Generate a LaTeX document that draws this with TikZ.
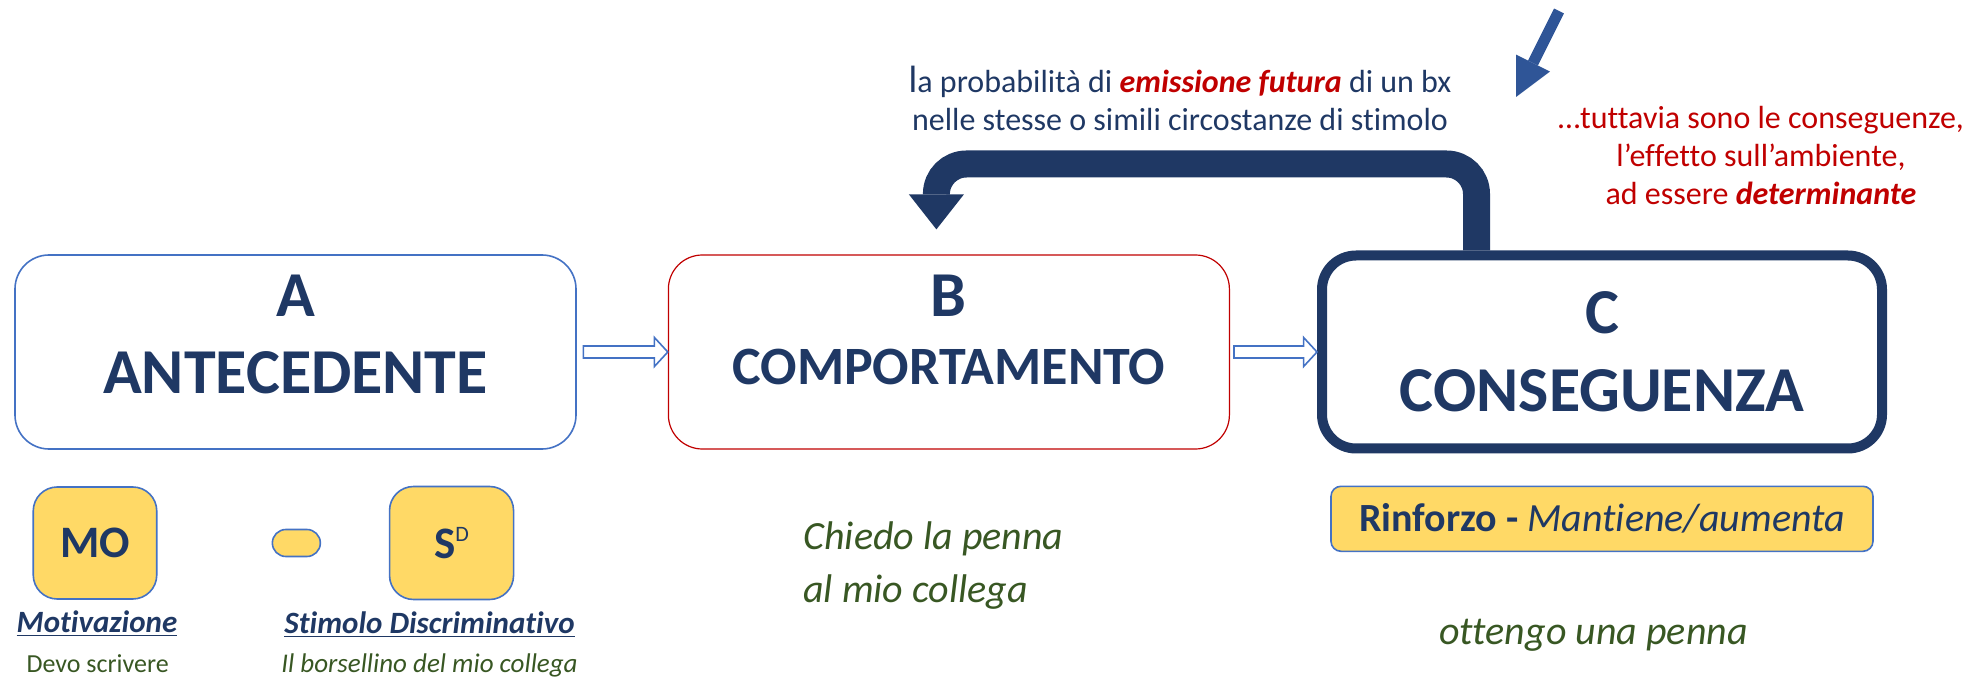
\documentclass[tikz,border=0pt]{standalone}
\usepackage{fontspec}
\setmainfont{Carlito}[Ligatures=CommonOff]
\usetikzlibrary{positioning}
\usetikzlibrary{calc}
\usetikzlibrary{arrows.meta}

\definecolor{abcnavy}{HTML}{1F3864}
\definecolor{abcblue}{HTML}{4472C4}
\definecolor{abcred}{HTML}{C00000}
\definecolor{abcyellow}{HTML}{FFD966}
\definecolor{abcgreen}{HTML}{385723}
\definecolor{abcarrow}{HTML}{2F5597}

\tikzset{
  mainbox/.style={rectangle, rounded corners=17pt, minimum width=280.5pt, minimum height=97pt,
    align=center, text=abcnavy, font=\bfseries\fontsize{32}{38.5}\selectfont},
  antbox/.style={mainbox, draw=abcblue, line width=0.8pt},
  behbox/.style={mainbox, draw=abcred, line width=0.6pt},
  conbox/.style={mainbox, draw=abcnavy, line width=5pt, minimum width=280pt, minimum height=96.5pt,
    font=\bfseries\fontsize{32}{39}\selectfont},
  tag/.style={rectangle, draw=abcblue, fill=abcyellow, line width=0.8pt, rounded corners=12pt,
    text=abcnavy, font=\bfseries\fontsize{22.5}{27}\selectfont, minimum width=61.75pt, minimum height=56pt},
  hollow/.style={draw=abcblue, fill=white, line width=0.8pt, line join=miter},
  feedback/.style={draw=abcnavy, line width=13.5pt, rounded corners=15pt,
    -{Triangle[width=27.5pt, length=17.5pt, line width=0pt]}},
  pointer/.style={draw=abcarrow, line width=5.5pt, -{Triangle[width=19pt, length=19pt, line width=0pt]}},
  lbl/.style={anchor=base, inner sep=0pt, text=abcnavy, font=\bfseries\itshape\fontsize{15.5}{18}\selectfont},
  note/.style={anchor=base, inner sep=0pt, text=abcgreen, font=\fontsize{13}{16}\selectfont},
  example/.style={inner sep=0pt, text=abcgreen, font=\itshape\fontsize{20}{26.5}\selectfont},
}

\begin{document}
\begin{tikzpicture}[x=0.5pt, y=-0.5pt]
    \useasboundingbox (0,0) rectangle (1986,678);

    % A - B - C
    \node[antbox] (A) at (295.5,352) {A\\ANTECEDENTE\rule[-18pt]{0pt}{0pt}};
    \node[behbox, right=45.5pt of A] (B) {B\\[-4.5pt]{\fontsize{27}{27}\selectfont COMPORTAMENTO}\rule[-22.5pt]{0pt}{0pt}};
    \node[conbox, right=43.5pt of B] (C) {C\\CONSEGUENZA};

    % antecedent parts
    \node[tag] (MO) at (95,543) {MO};
    \node[tag, right=57pt of MO, minimum width=24pt, minimum height=13.5pt, rounded corners=6.75pt] (pill) {};
    \node[tag, right=33.8pt of pill, minimum width=62pt, minimum height=56.5pt] (SD) {S\raisebox{8.5pt}{\mdseries\fontsize{11}{11}\selectfont D}};
    \node[lbl] (motiv) at (97,632) {\underline{Motivazione}};
    \node[note] (devo) at (97.7,672) {Devo scrivere};
    \node[lbl] (stimolo) at (429.5,633) {\underline{Stimolo Discriminativo}};
    \node[note, font=\itshape\fontsize{13.5}{16}\selectfont] (borsellino) at (429.5,672) {Il borsellino del mio collega};

    % examples
    \node[example, anchor=base west, align=left] (chiedo) at (803,602) {Chiedo la penna\\al mio collega};
    \node[tag, below=16pt of C, minimum width=271pt, minimum height=32.5pt, rounded corners=5pt,
      font=\fontsize{20}{24}\selectfont] (rinforzo) {\textbf{Rinforzo -} \textit{Mantiene/aumenta}};
    \node[example, anchor=base] (ottengo) at (1593.5,644) {ottengo una penna};

    % comments on top
    \node[anchor=base, align=center, inner sep=0pt, text=abcnavy, font=\fontsize{16}{19}\selectfont] (prob) at (1180,130.7)
      {{\fontsize{19}{19}\selectfont l}a probabilità di \textcolor{abcred}{\bfseries\itshape emissione futura} di un bx\\nelle stesse o simili circostanze di stimolo};
    \node[anchor=base, align=center, inner sep=0pt, text=abcred, font=\fontsize{16}{19}\selectfont] (tuttavia) at (1761,205)
      {…tuttavia sono le conseguenze,\\l’effetto sull’ambiente,\\ad essere \textbf{\textit{determinante}}};

    % Connect the nodes
    \draw[hollow] ($(A.east)+(3.3pt,3pt)$) -- ($(B.west)+(-6.7pt,3pt)$) -- ++(0,4.25pt) -- (B.west)
      -- ++(-6.7pt,-7.25pt) -- ++(0,4.25pt) -- ($(A.east)+(3.3pt,-3pt)$) -- cycle;
    \draw[hollow] ($(B.east)+(2pt,3pt)$) -- ($(C.west)+(-6.7pt,3pt)$) -- ++(0,4.25pt) -- (C.west)
      -- ++(-6.7pt,-7.25pt) -- ++(0,4.25pt) -- ($(B.east)+(2pt,-3pt)$) -- cycle;
    \draw[feedback] ([xshift=-62.75pt]C.north) -- ++(0,43.25pt) -| ([xshift=-6.25pt,yshift=12.5pt]B.north);

    \coordinate (diagtail) at (1559,11);
    \coordinate (diagtip) at (1516,97);
    \draw[pointer] (diagtail) -- (diagtip);
\end{tikzpicture}
\end{document}
